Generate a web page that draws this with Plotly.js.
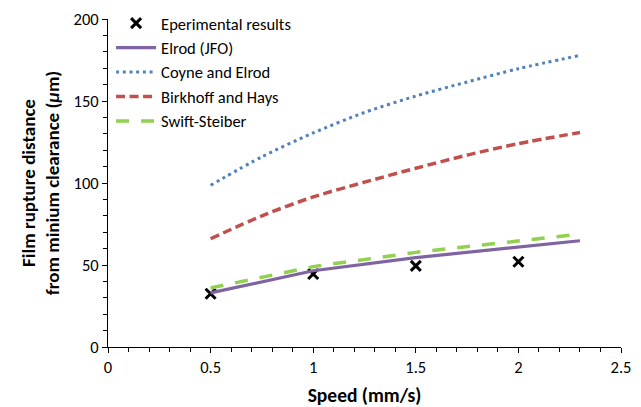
<!DOCTYPE html>
<html>
<head>
<meta charset="utf-8">
<script src="https://cdn.plot.ly/plotly-3.0.1.min.js"></script>
<style>body{margin:0;padding:0;background:#fff;}#chart{width:641px;height:407px;}</style>
</head>
<body>
<div id="chart"></div>
<script>
var expSpeed = [0.5, 1.0, 1.5, 2.0];
var expValues = [32.5, 44.5, 49.5, 52.0];

var modelSpeed = [0.5, 1.0, 1.5, 2.0, 2.3];
var elrodValues = [33.0, 46.5, 54.5, 60.8, 64.8];
var swiftValues = [36.0, 49.0, 57.7, 64.8, 68.8];

var curveSpeed = [0.5, 0.75, 1.0, 1.25, 1.5, 1.75, 2.0, 2.3];
var coyneValues = [98.6, 116.0, 130.5, 143.0, 153.0, 161.6, 169.7, 177.8];
var birkhoffValues = [66.0, 80.0, 91.5, 100.5, 109.0, 117.0, 124.0, 130.8];

var seriesNames = ["Eperimental results", "Elrod (JFO)", "Coyne and Elrod", "Birkhoff and Hays", "Swift-Steiber"];

var font = "Carlito, Calibri, 'Open Sans', 'Liberation Sans', sans-serif";

var traces = [
  {x: expSpeed, y: expValues, name: seriesNames[0], mode: "markers", type: "scatter",
   marker: {symbol: "x-thin", size: 10, color: "#000", line: {width: 3, color: "#000"}}},
  {x: modelSpeed, y: elrodValues, name: seriesNames[1], mode: "lines", type: "scatter",
   line: {color: "#8064A2", width: 3.2}},
  {x: curveSpeed, y: coyneValues, name: seriesNames[2], mode: "lines", type: "scatter",
   line: {color: "#4F81BD", width: 3, dash: "3px,3.7px", shape: "spline", smoothing: 0.8}},
  {x: curveSpeed, y: birkhoffValues, name: seriesNames[3], mode: "lines", type: "scatter",
   line: {color: "#C0504D", width: 3.5, dash: "9px,4.5px", shape: "spline", smoothing: 0.8}},
  {x: modelSpeed, y: swiftValues, name: seriesNames[4], mode: "lines", type: "scatter",
   line: {color: "#92D050", width: 3.5, dash: "13px,12px"}}
];

var layout = {
  width: 641, height: 407,
  margin: {l: 108, r: 20, t: 19, b: 60, autoexpand: false},
  paper_bgcolor: "#fff", plot_bgcolor: "#fff",
  font: {family: font, size: 16, color: "#000"},
  showlegend: true,
  legend: {x: 0.006, y: 1.04, xanchor: "left", yanchor: "top", bgcolor: "rgba(0,0,0,0)",
           itemwidth: 40, font: {size: 16.5, family: font, color: "#000"}, tracegroupgap: 0},
  xaxis: {
    range: [0, 2.5], dtick: 0.5, tick0: 0, showgrid: false, zeroline: false,
    showline: true, linecolor: "#000", linewidth: 1,
    ticks: "outside", ticklen: 5, tickcolor: "#000",
    minor: {dtick: 0.1, ticks: "outside", ticklen: 4, tickcolor: "#000", showgrid: false},
    tickfont: {size: 16.5, family: font},
    title: {text: "<b>Speed (mm/s)</b>", font: {size: 19.5, family: font}, standoff: 12}
  },
  yaxis: {
    range: [0, 200], dtick: 50, tick0: 0, showgrid: false, zeroline: false,
    showline: true, linecolor: "#000", linewidth: 1,
    ticks: "outside", ticklen: 5, tickcolor: "#000",
    minor: {dtick: 10, ticks: "outside", ticklen: 4, tickcolor: "#000", showgrid: false},
    tickfont: {size: 16.5, family: font},
    title: {text: "<b>Film rupture distance<br>from minium clearance (<i>μ</i>m)</b>", font: {size: 19, family: font}, standoff: 8}
  }
};

Plotly.newPlot("chart", traces, layout, {displayModeBar: false, staticPlot: true});
</script>
</body>
</html>
